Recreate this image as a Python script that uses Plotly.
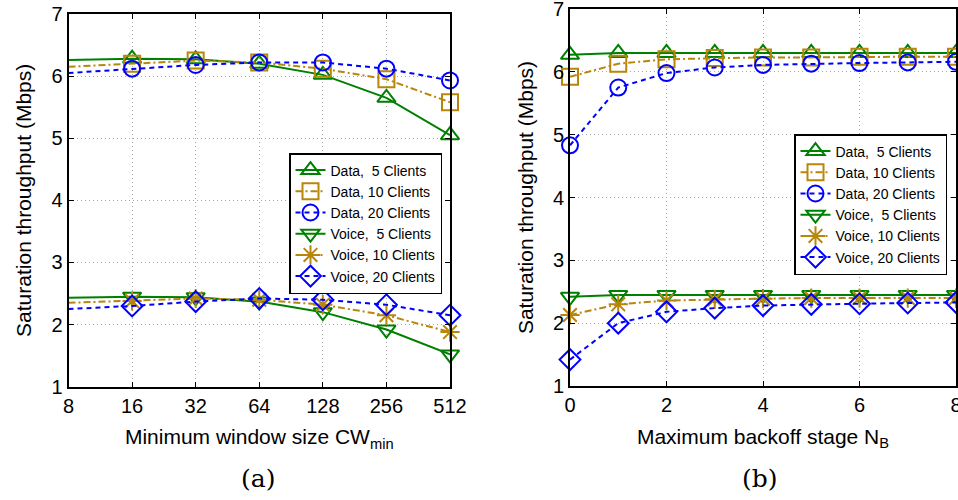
import plotly.graph_objects as go

# ---- data ----
cw_min = [8, 16, 32, 64, 128, 256, 512]
a_data5 = [6.26, 6.28, 6.27, 6.20, 6.02, 5.65, 5.05]
a_data10 = [6.15, 6.20, 6.25, 6.22, 6.12, 5.95, 5.58]
a_data20 = [6.05, 6.12, 6.18, 6.22, 6.22, 6.12, 5.93]
a_voice5 = [2.43, 2.45, 2.44, 2.37, 2.20, 1.92, 1.52]
a_voice10 = [2.35, 2.38, 2.42, 2.40, 2.32, 2.15, 1.88]
a_voice20 = [2.25, 2.30, 2.37, 2.42, 2.40, 2.32, 2.15]

nb = [0, 1, 2, 3, 4, 5, 6, 7, 8]
b_data5 = [6.27, 6.30, 6.30, 6.30, 6.30, 6.30, 6.30, 6.30, 6.30]
b_data10 = [5.92, 6.13, 6.20, 6.22, 6.23, 6.23, 6.24, 6.24, 6.24]
b_data20 = [4.83, 5.75, 5.98, 6.07, 6.11, 6.13, 6.14, 6.15, 6.16]
b_voice5 = [2.42, 2.45, 2.45, 2.45, 2.45, 2.45, 2.45, 2.45, 2.45]
b_voice10 = [2.13, 2.30, 2.36, 2.38, 2.39, 2.40, 2.40, 2.40, 2.40]
b_voice20 = [1.42, 2.00, 2.18, 2.24, 2.28, 2.30, 2.31, 2.32, 2.33]

names = ["Data,  5 Clients", "Data, 10 Clients", "Data, 20 Clients",
         "Voice,  5 Clients", "Voice, 10 Clients", "Voice, 20 Clients"]

GREEN = "#008000"
GOLD = "#B8860B"
BLUE = "#0000FF"
DASH = "5px,4px"
DASHDOT = "7px,3px,2px,3px"
styles = [
    (GREEN, "solid", "triangle-up-open"),
    (GOLD, DASHDOT, "square-open"),
    (BLUE, DASH, "circle-open"),
    (GREEN, "solid", "triangle-down-open"),
    (GOLD, DASHDOT, "asterisk-open"),
    (BLUE, DASH, "diamond-open"),
]

FONT = "Liberation Sans, Arial, sans-serif"
fig = go.Figure()

a_series = [a_data5, a_data10, a_data20, a_voice5, a_voice10, a_voice20]
b_series = [b_data5, b_data10, b_data20, b_voice5, b_voice10, b_voice20]

for name, ys, (c, d, s) in zip(names, a_series, styles):
    fig.add_trace(go.Scatter(
        x=cw_min, y=ys, name=name, mode="lines+markers",
        line=dict(color=c, dash=d, width=2),
        marker=dict(symbol=s, size=16, color=c, line=dict(color=c, width=2)),
        xaxis="x", yaxis="y", legend="legend", cliponaxis=False))

for name, ys, (c, d, s) in zip(names, b_series, styles):
    fig.add_trace(go.Scatter(
        x=nb, y=ys, name=name, mode="lines+markers",
        line=dict(color=c, dash=d, width=2),
        marker=dict(symbol=s, size=16, color=c, line=dict(color=c, width=2)),
        xaxis="x2", yaxis="y2", legend="legend2", cliponaxis=False))

axis_common = dict(
    showline=True, linecolor="black", linewidth=2, mirror="ticks",
    ticks="inside", ticklen=5, tickwidth=1, tickcolor="black",
    showgrid=True, gridcolor="#a8a8a8", griddash="1px,3px", gridwidth=1,
    zeroline=False, automargin=False, ticklabeloverflow="allow",
    tickfont=dict(family=FONT, size=20, color="black"),
)
TITLE_FONT = dict(family=FONT, size=21, color="black")

fig.update_layout(
    width=958, height=500,
    margin=dict(l=0, r=0, t=0, b=0),
    paper_bgcolor="white", plot_bgcolor="white",
    font=dict(family=FONT, color="black"),
    xaxis=dict(axis_common, domain=[68.5 / 958, 450 / 958], type="log",
               range=[0.90309, 2.70927], tickvals=cw_min,
               ticktext=[str(v) for v in cw_min],
               title=dict(text="Minimum window size CW<sub>min</sub>",
                          font=TITLE_FONT, standoff=14),
               anchor="y"),
    yaxis=dict(axis_common, domain=[1 - 386.7 / 500, 1 - 14 / 500],
               range=[1, 7], tickvals=[1, 2, 3, 4, 5, 6, 7],
               title=dict(text="Saturation throughput (Mbps)",
                          font=TITLE_FONT, standoff=14),
               anchor="x"),
    xaxis2=dict(axis_common, domain=[570 / 958, 956 / 958],
                range=[0, 8], tickvals=[0, 2, 4, 6, 8],
                title=dict(text="Maximum backoff stage N<sub>B</sub>",
                           font=TITLE_FONT, standoff=14),
                anchor="y2"),
    yaxis2=dict(axis_common, domain=[1 - 386 / 500, 1 - 9 / 500],
                range=[1, 7], tickvals=[1, 2, 3, 4, 5, 6, 7],
                title=dict(text="Saturation throughput (Mbps)",
                           font=TITLE_FONT, standoff=14),
                anchor="x2"),
    legend=dict(x=289 / 958, y=1 - 153 / 500, xanchor="left", yanchor="top",
                bgcolor="white", bordercolor="black", borderwidth=1.5,
                font=dict(family=FONT, size=14), itemwidth=30,
                tracegroupgap=0),
    legend2=dict(x=794 / 958, y=1 - 134 / 500, xanchor="left", yanchor="top",
                 bgcolor="white", bordercolor="black", borderwidth=1.5,
                 font=dict(family=FONT, size=14), itemwidth=30,
                 tracegroupgap=0),
    annotations=[
        dict(text="(a)", x=258 / 958, y=1 - 478 / 500, xref="paper", yref="paper",
             xanchor="center", yanchor="middle", showarrow=False,
             font=dict(family="DejaVu Serif, serif", size=25)),
        dict(text="(b)", x=760 / 958, y=1 - 478 / 500, xref="paper", yref="paper",
             xanchor="center", yanchor="middle", showarrow=False,
             font=dict(family="DejaVu Serif, serif", size=25)),
    ],
)

fig.write_html("out.html")
